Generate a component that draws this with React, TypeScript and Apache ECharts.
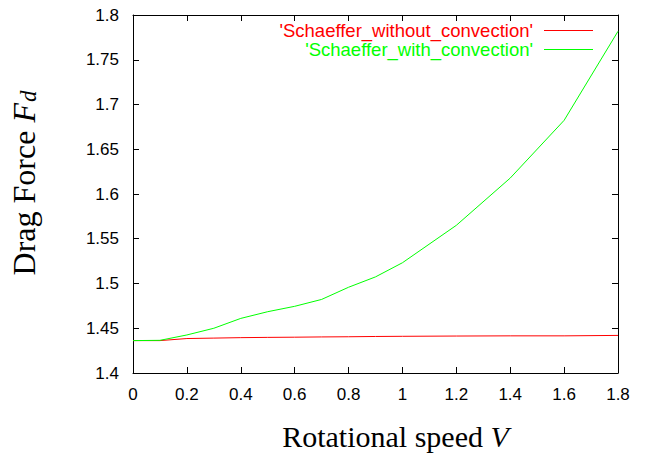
import React, { useEffect, useRef } from "react";
import * as echarts from "echarts";

const speeds = [0, 0.1, 0.2, 0.3, 0.4, 0.5, 0.6, 0.7, 0.8, 0.9, 1.0, 1.2, 1.4, 1.6, 1.8];
const withoutConvection = [1.4362, 1.4362, 1.4385, 1.439, 1.4395, 1.4398, 1.44, 1.4403, 1.4405, 1.4408, 1.441, 1.4413, 1.4415, 1.4415, 1.442];
const withConvection = [1.4362, 1.4365, 1.4425, 1.45, 1.461, 1.4685, 1.4745, 1.4822, 1.4958, 1.5074, 1.5232, 1.565, 1.6178, 1.6823, 1.7818];
const seriesNames = ["'Schaeffer_without_convection'", "'Schaeffer_with_convection'"];
const seriesColors = ["#ff0000", "#00ff00"];

const sans = "'Liberation Sans', Arial, sans-serif";
const serif = "'Liberation Serif', 'Times New Roman', serif";

export default function App() {
  const ref = useRef<HTMLDivElement>(null);
  useEffect(() => {
    if (!ref.current) return;
    const chart = echarts.init(ref.current, null, { renderer: "svg" });
    const tickStyle = { inside: true, length: 6, lineStyle: { color: "#000", width: 1 } };
    const lineStyle = { lineStyle: { color: "#000", width: 1 } };
    chart.setOption({
      animation: false,
      backgroundColor: "#fff",
      grid: { left: 131, right: 37, top: 15, bottom: 75, containLabel: false },
      legend: {
        orient: "vertical",
        align: "right",
        right: 57,
        top: 16,
        itemGap: 0,
        itemWidth: 49,
        itemHeight: 1,
        icon: "rect",
        selectedMode: false,
        textStyle: { fontFamily: sans, fontSize: 18.5, lineHeight: 18, padding: [0, 6, 0, 0] },
        data: seriesNames.map((n, i) => ({ name: n, textStyle: { color: seriesColors[i] } })),
      },
      xAxis: [
        {
          type: "value",
          min: 0,
          max: 1.8,
          interval: 0.2,
          position: "bottom",
          axisLine: { show: true, onZero: false, ...lineStyle },
          axisTick: tickStyle,
          splitLine: { show: false },
          axisLabel: { fontFamily: sans, fontSize: 17, color: "#000", margin: 13 },
          name: "Rotational speed {i|V}",
          nameLocation: "middle",
          nameGap: 48,
          nameTextStyle: {
            fontFamily: serif,
            fontSize: 30,
            color: "#000",
            padding: [0, 0, 0, 40],
            rich: { i: { fontFamily: serif, fontSize: 30, fontStyle: "italic", color: "#000" } },
          },
        },
        {
          type: "value",
          min: 0,
          max: 1.8,
          interval: 0.2,
          position: "top",
          axisLine: { show: true, onZero: false, ...lineStyle },
          axisTick: tickStyle,
          splitLine: { show: false },
          axisLabel: { show: false },
        },
      ],
      yAxis: [
        {
          type: "value",
          min: 1.4,
          max: 1.8,
          interval: 0.05,
          position: "left",
          axisLine: { show: true, onZero: false, ...lineStyle },
          axisTick: tickStyle,
          splitLine: { show: false },
          axisLabel: { fontFamily: sans, fontSize: 17, color: "#000", margin: 14 },
          name: "Drag Force {i|F}{s|d}",
          nameLocation: "middle",
          nameGap: 93,
          nameRotate: 90,
          nameTextStyle: {
            fontFamily: serif,
            fontSize: 32,
            color: "#000",
            padding: [0, 0, 0, 22],
            rich: {
              i: { fontFamily: serif, fontSize: 32, fontStyle: "italic", color: "#000" },
              s: { fontFamily: serif, fontSize: 23, fontStyle: "italic", color: "#000", verticalAlign: "bottom", padding: [6, 0, 0, 1] },
            },
          },
        },
        {
          type: "value",
          min: 1.4,
          max: 1.8,
          interval: 0.05,
          position: "right",
          axisLine: { show: true, onZero: false, ...lineStyle },
          axisTick: tickStyle,
          splitLine: { show: false },
          axisLabel: { show: false },
        },
      ],
      series: [
        {
          name: seriesNames[0],
          type: "line",
          showSymbol: false,
          color: seriesColors[0],
          lineStyle: { width: 1, color: seriesColors[0] },
          data: speeds.map((x, i) => [x, withoutConvection[i]]),
        },
        {
          name: seriesNames[1],
          type: "line",
          showSymbol: false,
          color: seriesColors[1],
          lineStyle: { width: 1, color: seriesColors[1] },
          data: speeds.map((x, i) => [x, withConvection[i]]),
        },
      ],
    });
    return () => chart.dispose();
  }, []);
  return <div ref={ref} style={{ position: "absolute", left: 0, top: 0, width: 655, height: 456 }} />;
}
